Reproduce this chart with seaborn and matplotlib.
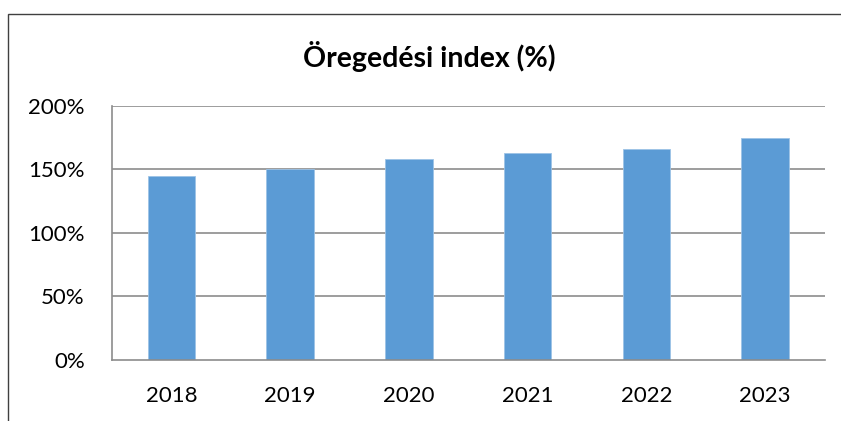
import matplotlib
matplotlib.use("Agg")
import matplotlib.pyplot as plt
import matplotlib.patches as mpatches
from matplotlib.ticker import FixedLocator, FuncFormatter
import seaborn as sns
import pandas as pd

# Ageing index by year (%)
years = ["2018", "2019", "2020", "2021", "2022", "2023"]
index_values = [144.6, 149.9, 158.0, 162.4, 166.1, 174.2]
y_ticks = [0, 50, 100, 150, 200]
title = "Öregedési index (%)"

df = pd.DataFrame({"year": years, "value": index_values})

sns.set_theme(style="white")
plt.rcParams["font.family"] = ["Lato", "DejaVu Sans"]

fig = plt.figure(figsize=(8.41, 4.21), dpi=100)
ax = fig.add_axes([112 / 841, 1 - 360 / 421, (824.5 - 112) / 841, (360 - 105.5) / 421])

sns.barplot(data=df, x="year", y="value", color="#5B9BD5", width=0.4,
            edgecolor="#9DC3E6", linewidth=0.6, saturation=1, ax=ax)

ax.set_ylim(0, 200)
ax.set_xlim(-0.5, len(years) - 0.5)
ax.set_xlabel("")
ax.set_ylabel("")

grid_color = "#8C8C8C"
ax.yaxis.set_major_locator(FixedLocator(y_ticks))
ax.yaxis.set_major_formatter(FuncFormatter(lambda v, _: f"{int(v)}%"))
for y in y_ticks[1:]:
    ax.axhline(y, color=grid_color, linewidth=1.2, zorder=0)

# Category boundary tick marks on the x axis
ax.set_xticks([i - 0.5 for i in range(len(years) + 1)], minor=True)
ax.tick_params(axis="x", which="minor", length=6, width=1.2, color=grid_color, direction="out")
ax.tick_params(axis="x", which="major", length=0, pad=19, labelsize=16, labelcolor="black")
ax.tick_params(axis="y", which="major", length=6, width=1.2, color=grid_color,
               direction="out", pad=13.5, labelsize=16, labelcolor="black")

for side in ["top", "right"]:
    ax.spines[side].set_visible(False)
for side in ["left", "bottom"]:
    ax.spines[side].set_color(grid_color)
    ax.spines[side].set_linewidth(1.2)

fig.text(429 / 841, 1 - 57 / 421, title, ha="center", va="center",
         fontsize=20.5, fontweight="bold", color="black")

# Chart frame
frame = mpatches.Rectangle((7.5 / 841, -0.05), 1.0, 1 - 13.5 / 421 + 0.05,
                           transform=fig.transFigure, fill=False,
                           edgecolor="#404040", linewidth=1.0, clip_on=False)
fig.patches.append(frame)

fig.savefig("out.png", dpi=100, facecolor="white")
